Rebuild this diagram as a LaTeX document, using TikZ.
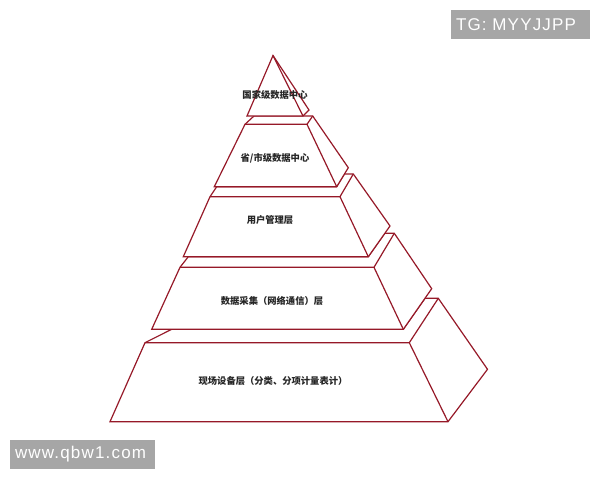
\documentclass[tikz,border=0pt]{standalone}
\usepackage{fontspec}
\setmainfont{Noto Sans CJK SC}
\newfontfamily\wmfont[LetterSpace=7]{Liberation Sans}
\definecolor{pyrred}{RGB}{150,25,40}
\definecolor{wmgray}{RGB}{166,166,166}

\begin{document}
\begin{tikzpicture}[x=1pt,y=-1pt,
    layer/.style={draw=pyrred, line width=1.2pt, fill=white},
    rim/.style={draw=pyrred, line width=1.2pt},
    layertext/.style={font=\fontsize{9.3}{9.3}\selectfont\bfseries, text=black!85},
    wmbox/.style={fill=wmgray, text=white, font=\wmfont\fontsize{17}{17}\selectfont,
        minimum height=29pt, inner xsep=5pt, inner ysep=0pt, align=left}]
    \useasboundingbox (0,0) rectangle (600,480);
        % bottom layer
        \draw[layer] (110,421.7) -- (145,342.7) -- (171.7,329.3) -- (403.3,329.3) -- (425,298.3) -- (438.3,298.3) -- (487.5,369.3) -- (448,421.7) -- cycle;
        \draw[rim] (145,342.7) -- (409.3,342.7) -- (448,421.7) (409.3,342.7) -- (438.3,298.3);
        % fourth layer
        \draw[layer] (151.7,329.3) -- (180,267.3) -- (188.3,256.7) -- (368.3,256.7) -- (384.8,233.3) -- (394.3,233.3) -- (431.7,288.7) -- (403.3,329.3) -- cycle;
        \draw[rim] (180,267.3) -- (374,267.3) -- (403.3,329.3) (374,267.3) -- (394.3,233.3);
        % third layer
        \draw[layer] (183.3,256.7) -- (210,196.7) -- (216.7,186.7) -- (336.7,186.7) -- (344.4,174) -- (353.3,174) -- (390,226) -- (368.3,256.7) -- cycle;
        \draw[rim] (210,196.7) -- (340,196.7) -- (368.3,256.7) (340,196.7) -- (353.3,174);
        % second layer
        \draw[layer] (214.3,186.7) -- (245,124.3) -- (254,116) -- (312.7,116) -- (348.3,167.7) -- (336.7,186.7) -- cycle;
        \draw[rim] (245,124.3) -- (307,124.3) -- (336.7,186.7) (307,124.3) -- (312.7,116);
        % top
        \draw[layer] (247,116) -- (273,55.5) -- (309,110) -- (303,116) -- cycle;
        \draw[rim] (273,55.5) -- (303,116);
        % labels
        \node[layertext] (national) at (275,95) {国家级数据中心};
        \node[layertext] (province) at (275,158) {省/市级数据中心};
        \node[layertext] (user) at (270,220) {用户管理层};
        \node[layertext] (collect) at (272,301) {数据采集（网络通信）层};
        \node[layertext] (field) at (273,381) {现场设备层（分类、分项计量表计）};
        % watermarks
        \node[wmbox, text width=129pt] (tg) at (520.5,24.5) {TG: MYYJJPP};
        \node[wmbox, text width=135pt] (site) at (82.5,454.5) {www.qbw1.com};
    \end{tikzpicture}
\end{document}
